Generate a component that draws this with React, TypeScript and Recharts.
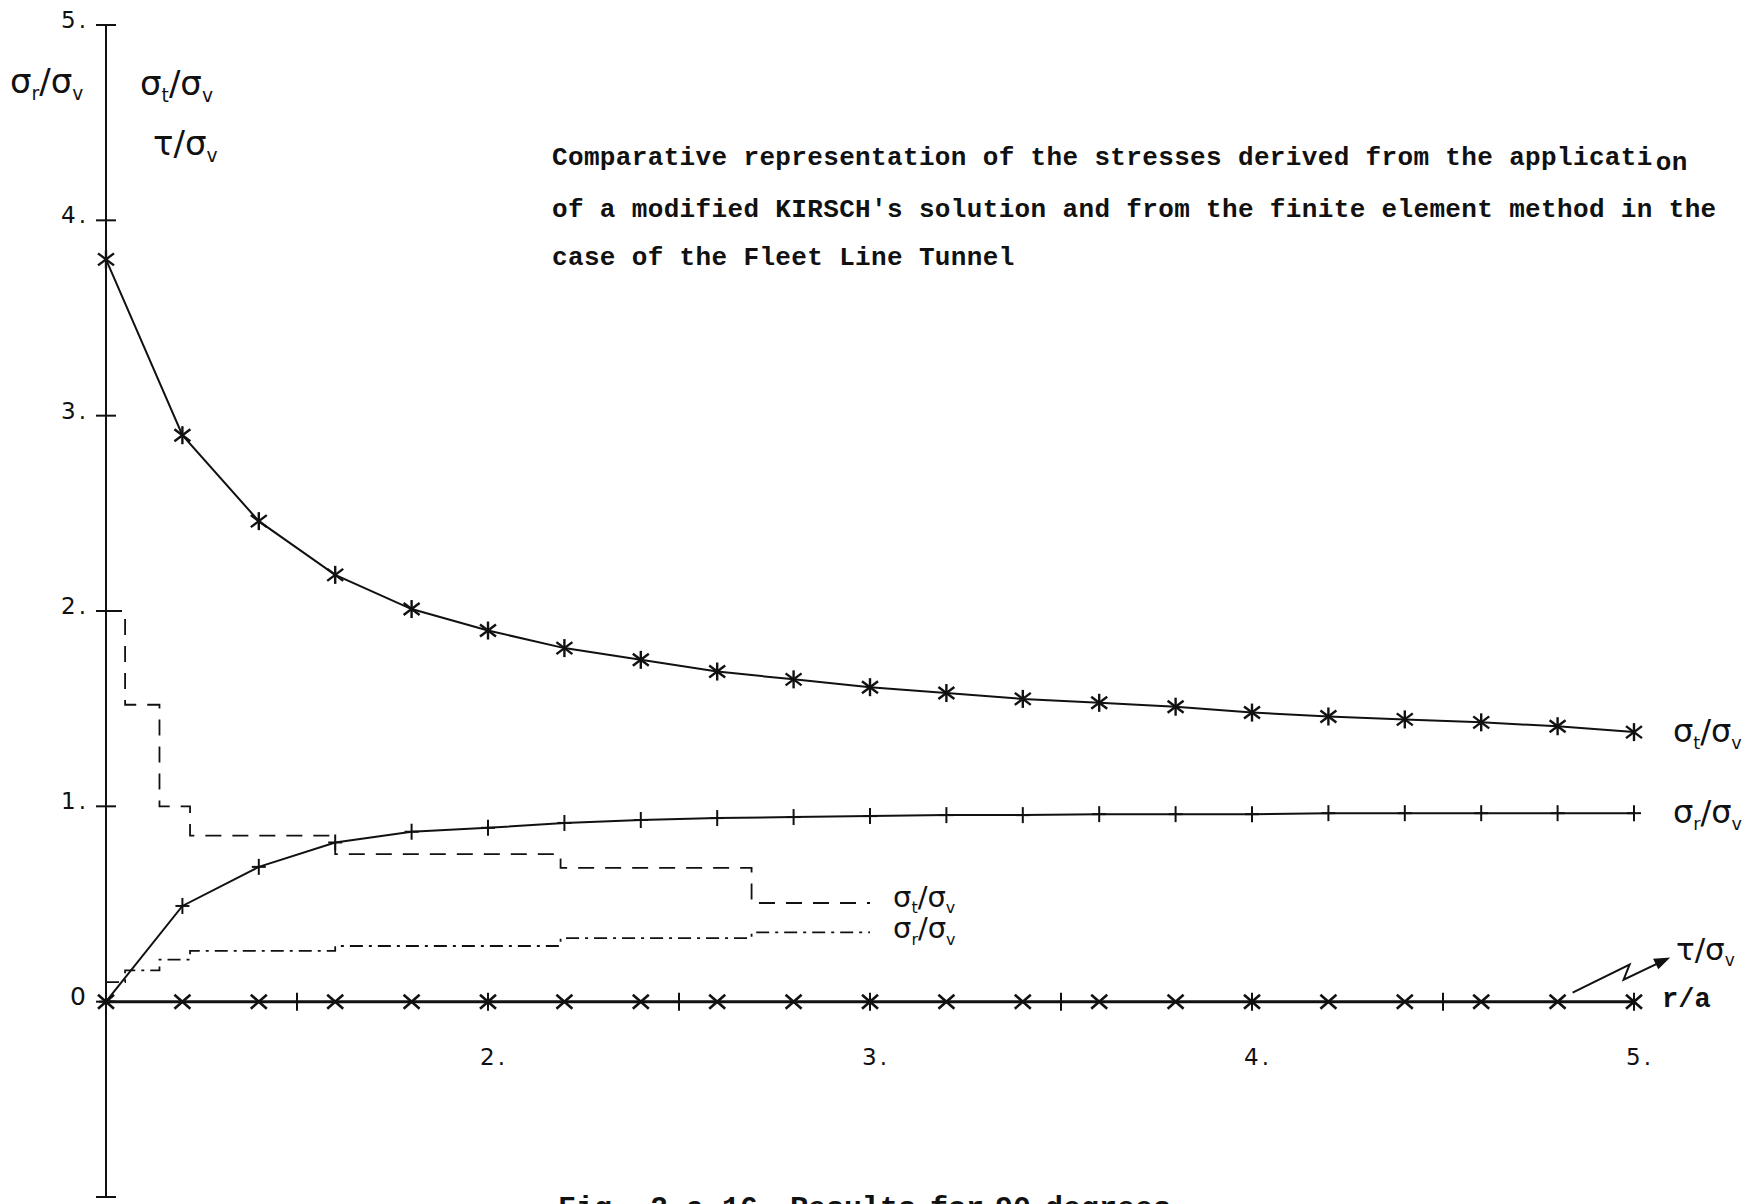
import React from "react";
import { ComposedChart, Line, XAxis, YAxis, ReferenceDot } from "recharts";

// r/a stations of the modified Kirsch solution
const radii = [1.0, 1.2, 1.4, 1.6, 1.8, 2.0, 2.2, 2.4, 2.6, 2.8, 3.0, 3.2, 3.4, 3.6, 3.8, 4.0, 4.2, 4.4, 4.6, 4.8, 5.0];
const kirschSigmaT = [3.8, 2.9, 2.46, 2.185, 2.01, 1.9, 1.81, 1.75, 1.69, 1.65, 1.61, 1.58, 1.55, 1.53, 1.51, 1.48, 1.46, 1.445, 1.43, 1.41, 1.38];
const kirschSigmaR = [0, 0.49, 0.69, 0.815, 0.87, 0.89, 0.915, 0.93, 0.94, 0.945, 0.95, 0.955, 0.955, 0.96, 0.96, 0.96, 0.965, 0.965, 0.965, 0.965, 0.965];
const kirschTau = [0, 0, 0, 0, 0, 0, 0, 0, 0, 0, 0, 0, 0, 0, 0, 0, 0, 0, 0, 0, 0];

// finite element results, constant over each element (element bounds in r/a)
const femBounds = [1.0, 1.05, 1.14, 1.22, 1.6, 2.19, 2.69, 3.0];
const femSigmaT = [2.0, 1.52, 1.0, 0.85, 0.755, 0.685, 0.505, 0.505];
const femSigmaR = [0.1, 0.16, 0.215, 0.26, 0.285, 0.325, 0.355, 0.355];

const yTicks = [-1, 0, 1, 2, 3, 4, 5];
const xTicks = [1.5, 2, 2.5, 3, 3.5, 4, 4.5, 5];
const xLabels = [2, 3, 4, 5];

const zip = (xs: number[], ys: number[]) => xs.map((r, i) => ({ r, v: ys[i] }));
const tData = zip(radii, kirschSigmaT);
const rData = zip(radii, kirschSigmaR);
const tauData = zip(radii, kirschTau);
const femTData = zip(femBounds, femSigmaT);
const femRData = zip(femBounds, femSigmaR);

const INK = "#111";
const PLOT_FONT = "'DejaVu Sans', sans-serif";
const TYPE_FONT = "'Liberation Mono', 'DejaVu Sans Mono', monospace";

function Ratio({ x, y, main, sub, size = 30 }: { x: number; y: number; main: string; sub?: string; size?: number }) {
  const s = size * 0.55;
  const d = size * 0.22;
  return (
    <text x={x} y={y} fontFamily={PLOT_FONT} fontSize={size} fill={INK}>
      {main}
      {sub ? <tspan fontSize={s} dy={d}>{sub}</tspan> : null}
      <tspan dy={sub ? -d : 0}>/σ</tspan>
      <tspan fontSize={s} dy={d}>v</tspan>
    </text>
  );
}

const Asterisk = ({ cx, cy }: any) =>
  cx == null ? null : (
    <g stroke={INK} strokeWidth={2.4}>
      <line x1={cx} y1={cy - 9} x2={cx} y2={cy + 9} />
      <line x1={cx - 8} y1={cy - 6} x2={cx + 8} y2={cy + 6} />
      <line x1={cx - 8} y1={cy + 6} x2={cx + 8} y2={cy - 6} />
    </g>
  );

const Plus = ({ cx, cy }: any) =>
  cx == null ? null : (
    <g stroke={INK} strokeWidth={2}>
      <line x1={cx} y1={cy - 8} x2={cx} y2={cy + 8} />
      <line x1={cx - 7} y1={cy} x2={cx + 7} y2={cy} />
    </g>
  );

const Cross = ({ cx, cy }: any) =>
  cx == null ? null : (
    <g stroke={INK} strokeWidth={2.6}>
      <line x1={cx - 8} y1={cy - 7} x2={cx + 8} y2={cy + 7} />
      <line x1={cx - 8} y1={cy + 7} x2={cx + 8} y2={cy - 7} />
    </g>
  );

const YTick = ({ x, y, payload }: any) => {
  const v = payload.value;
  return (
    <text x={x} y={y + 3} textAnchor="end" fontFamily={PLOT_FONT} fontSize={v === 0 ? 25 : 23} letterSpacing={3} fill={INK}>
      {v === 0 ? "0" : `${v}.`}
    </text>
  );
};

export default function App() {
  return (
    <div style={{ position: "absolute", left: 0, top: 0, width: 1761, height: 1204, background: "#fff", overflow: "hidden" }}>
      <ComposedChart width={1761} height={1204} margin={{ top: 25, right: 127, bottom: 7, left: 16 }}>
        <XAxis type="number" dataKey="r" domain={[1, 5]} hide />
        <YAxis
          type="number"
          domain={[-1, 5]}
          ticks={yTicks}
          width={90}
          tickSize={0}
          tickMargin={17}
          tickLine={false}
          axisLine={{ stroke: INK, strokeWidth: 2 }}
          tick={<YTick />}
        />

        <Line data={femTData} dataKey="v" type="stepAfter" stroke={INK} strokeWidth={1.8} strokeDasharray="16 11" dot={false} isAnimationActive={false} />
        <Line data={femRData} dataKey="v" type="stepAfter" stroke={INK} strokeWidth={1.8} strokeDasharray="13 6 3 6" dot={false} isAnimationActive={false} />
        <Line data={tauData} dataKey="v" type="linear" stroke={INK} strokeWidth={3} isAnimationActive={false}
          dot={(p: any) => <Cross key={`x${p.index}`} cx={p.cx} cy={p.cy} />} />
        <Line data={rData} dataKey="v" type="linear" stroke={INK} strokeWidth={2} isAnimationActive={false}
          dot={(p: any) => <Plus key={`p${p.index}`} cx={p.cx} cy={p.cy} />} />
        <Line data={tData} dataKey="v" type="linear" stroke={INK} strokeWidth={2} isAnimationActive={false}
          dot={(p: any) => <Asterisk key={`a${p.index}`} cx={p.cx} cy={p.cy} />} />

        {yTicks.map((t) => (
          <ReferenceDot key={`yt${t}`} x={1} y={t} r={0} ifOverflow="visible"
            shape={(p: any) => <line x1={p.cx - 10} y1={p.cy} x2={p.cx + 10} y2={p.cy} stroke={INK} strokeWidth={2} />} />
        ))}
        {xTicks.map((t) => (
          <ReferenceDot key={`xt${t}`} x={t} y={0} r={0} ifOverflow="visible"
            shape={(p: any) => <line x1={p.cx} y1={p.cy - 9} x2={p.cx} y2={p.cy + 9} stroke={INK} strokeWidth={2} />} />
        ))}
        {xLabels.map((t) => (
          <ReferenceDot key={`xl${t}`} x={t} y={0} r={0} ifOverflow="visible"
            shape={(p: any) => (
              <text x={p.cx - 8} y={p.cy + 63} fontFamily={PLOT_FONT} fontSize={23} letterSpacing={3} fill={INK}>{`${t}.`}</text>
            )} />
        ))}

        <ReferenceDot x={radii[radii.length - 1]} y={kirschSigmaT[kirschSigmaT.length - 1]} r={0} ifOverflow="visible"
          shape={(p: any) => <Ratio x={p.cx + 39} y={p.cy + 10} main="σ" sub="t" size={32} />} />
        <ReferenceDot x={radii[radii.length - 1]} y={kirschSigmaR[kirschSigmaR.length - 1]} r={0} ifOverflow="visible"
          shape={(p: any) => <Ratio x={p.cx + 39} y={p.cy + 10} main="σ" sub="r" size={32} />} />
        <ReferenceDot x={femBounds[femBounds.length - 1]} y={femSigmaT[femSigmaT.length - 1]} r={0} ifOverflow="visible"
          shape={(p: any) => <Ratio x={p.cx + 23} y={p.cy + 4} main="σ" sub="t" size={29} />} />
        <ReferenceDot x={femBounds[femBounds.length - 1]} y={femSigmaR[femSigmaR.length - 1]} r={0} ifOverflow="visible"
          shape={(p: any) => <Ratio x={p.cx + 23} y={p.cy + 6} main="σ" sub="r" size={29} />} />
        <ReferenceDot x={radii[radii.length - 1]} y={0} r={0} ifOverflow="visible"
          shape={(p: any) => (
            <g>
              <Ratio x={p.cx + 42} y={p.cy - 42} main="τ" size={31} />
              <text x={p.cx + 28} y={p.cy + 5} fontFamily={TYPE_FONT} fontWeight="bold" fontSize={27} fill={INK}>r/a</text>
            </g>
          )} />
        <ReferenceDot x={radii[radii.length - 2]} y={0} r={0} ifOverflow="visible"
          shape={(p: any) => (
            <g stroke={INK} strokeWidth={2} fill="none">
              <polyline points={`${p.cx + 15},${p.cy - 9} ${p.cx + 72},${p.cy - 37} ${p.cx + 66},${p.cy - 22} ${p.cx + 106},${p.cy - 41}`} />
              <polygon points={`${p.cx + 110},${p.cy - 43} ${p.cx + 97},${p.cy - 42} ${p.cx + 101},${p.cy - 34}`} fill={INK} />
            </g>
          )} />
      </ComposedChart>

      <svg width={1761} height={1204} style={{ position: "absolute", left: 0, top: 0, pointerEvents: "none" }}>
        <Ratio x={10} y={93} main="σ" sub="r" size={34} />
        <Ratio x={140} y={95} main="σ" sub="t" size={34} />
        <Ratio x={153} y={155} main="τ" size={34} />

        <g fontFamily={TYPE_FONT} fontWeight="bold" fontSize={26} fill={INK} letterSpacing={0.35}>
          <text x={552} y={165}>
            Comparative representation of the stresses derived from the applicati
            <tspan dx={3} dy={5}>on</tspan>
          </text>
          <text x={552} y={217}>of a modified KIRSCH's solution and from the finite element method in the</text>
          <text x={552} y={265}>case of the Fleet Line Tunnel</text>
        </g>
        <g fontFamily={TYPE_FONT} fontWeight="bold" fontSize={30} fill={INK}>
          <text y={1217}>
            <tspan x={558}>Fig.</tspan>
            <tspan x={650}>2.a.16</tspan>
            <tspan x={790}>Results</tspan>
            <tspan x={930}>for</tspan>
            <tspan x={995}>90</tspan>
            <tspan x={1045}>degrees</tspan>
          </text>
        </g>
      </svg>
    </div>
  );
}
